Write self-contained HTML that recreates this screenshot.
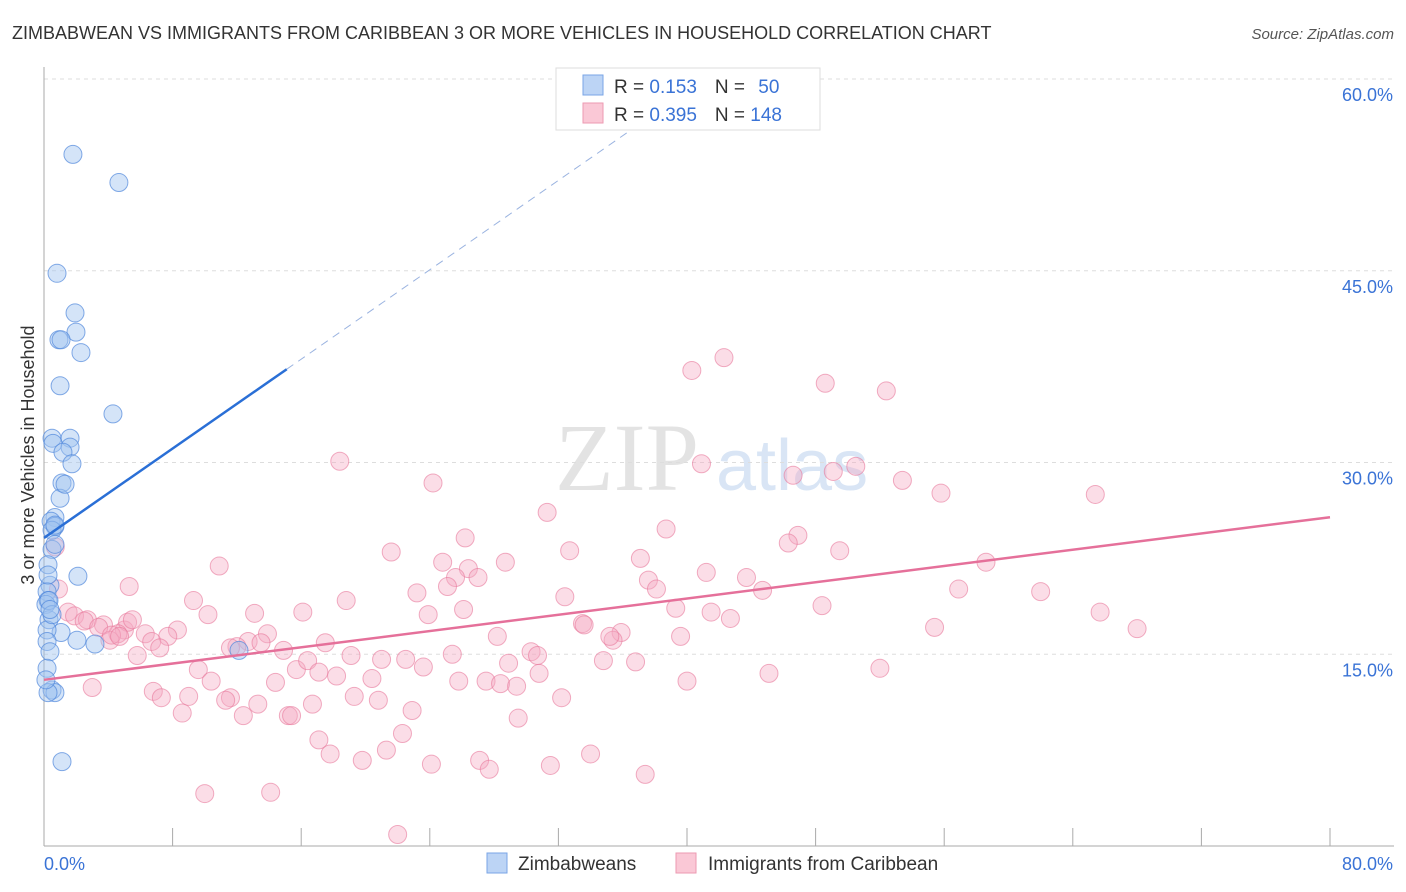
<!DOCTYPE html>
<html><head><meta charset="utf-8"><style>
body{margin:0;background:#fff;font-family:"Liberation Sans",sans-serif;}
svg{display:block}
</style></head><body>
<svg id="chart" width="1406" height="892" xmlns="http://www.w3.org/2000/svg">
<text x="12" y="39" font-size="18" fill="#333">ZIMBABWEAN VS IMMIGRANTS FROM CARIBBEAN 3 OR MORE VEHICLES IN HOUSEHOLD CORRELATION CHART</text>
<text x="1394" y="39" font-size="15" fill="#555" font-style="italic" text-anchor="end">Source: ZipAtlas.com</text>
<g><text x="555" y="490" font-size="96" font-family="Liberation Serif" fill="#ddd" opacity="0.8">ZIP</text><text x="716" y="490" font-size="72" fill="#c9dbf2" opacity="0.7">atlas</text></g>
<g id="grid"></g>
<g id="axes"></g>
<g id="marks"></g>
<g id="lines"></g>
<text transform="translate(34,455) rotate(-90)" font-size="18" fill="#333" text-anchor="middle">3 or more Vehicles in Household</text>
<g>
<rect x="556" y="68" width="264" height="62" fill="#fff" stroke="#ddd"/>
<rect x="583" y="75" width="20" height="20" fill="#bcd4f5" stroke="#7aa5e6"/>
<rect x="583" y="103" width="20" height="20" fill="#fac8d6" stroke="#ec9ab2"/>
<text x="614" y="93" font-size="19" fill="#333">R = <tspan fill="#3a73d6">0.153</tspan><tspan dx="18">N = </tspan><tspan fill="#3a73d6" dx="8">50</tspan></text>
<text x="614" y="121" font-size="19" fill="#333">R = <tspan fill="#3a73d6">0.395</tspan><tspan dx="18">N = </tspan><tspan fill="#3a73d6">148</tspan></text>
</g>
<g>
<rect x="487" y="853" width="20" height="20" fill="#bcd4f5" stroke="#7aa5e6"/>
<text x="518" y="870" font-size="19" fill="#333">Zimbabweans</text>
<rect x="676" y="853" width="20" height="20" fill="#fac8d6" stroke="#ec9ab2"/>
<text x="708" y="870" font-size="19" fill="#333">Immigrants from Caribbean</text>
</g>
</svg>
<script>
const yTicks=[15,30,45,60];
const yTickLabels=["15.0%","30.0%","45.0%","60.0%"];
const xTickLabels=["0.0%","80.0%"];
const blueX=[1.8,4.66,0.81,1.93,1.99,0.93,1.06,2.3,4.29,1.0,0.5,1.62,0.56,1.62,1.18,1.74,1.12,1.0,1.31,0.68,0.44,0.68,0.5,0.5,0.25,2.11,0.37,0.19,0.25,0.12,1.06,0.31,0.19,2.05,3.17,0.19,0.37,0.19,0.5,0.68,0.25,1.12,12.13,0.68,0.31,0.5,0.12,0.68,0.25,0.37];
const blueY=[54.1,51.9,44.8,41.7,40.2,39.6,39.6,38.6,33.8,36.0,31.9,31.9,31.5,31.2,30.8,29.9,28.4,27.2,28.3,25.7,25.4,25.0,24.7,23.2,22.0,21.1,20.4,19.9,19.2,18.9,16.7,17.7,16.9,16.1,15.8,16.0,15.2,13.9,12.2,12.0,12.0,6.6,15.3,23.6,19.2,18.1,13.0,25.1,21.2,18.5];
const pinkX=[42.3,40.3,48.6,52.4,18.4,40.9,49.1,50.5,46.6,24.2,53.4,55.8,65.4,31.3,38.7,26.2,46.9,46.3,21.6,32.7,49.5,37.1,24.8,28.7,26.4,10.9,41.2,25.6,27.0,43.7,37.6,58.6,23.2,25.1,32.4,38.1,44.7,56.9,62.0,9.3,5.3,0.9,0.7,26.1,39.3,16.1,13.1,18.8,10.2,23.9,41.5,42.7,48.4,65.7,33.5,33.6,35.9,35.4,35.2,39.6,55.4,68.0,1.5,1.9,2.7,2.5,3.7,3.4,5.0,5.2,4.6,5.5,4.1,6.3,8.3,7.7,6.7,7.2,13.9,12.7,13.5,12.0,17.5,4.2,4.7,11.6,14.9,5.8,19.1,28.2,30.3,30.7,36.8,34.8,25.4,21.0,22.5,23.6,15.7,16.4,17.1,18.2,9.6,10.4,20.4,25.8,28.9,30.8,27.5,28.4,29.4,40.0,45.1,52.0,3.0,6.8,7.3,9.0,11.6,11.3,14.4,19.3,20.8,8.6,16.7,12.4,13.3,15.2,15.4,22.9,29.5,32.2,17.1,22.3,17.8,19.8,21.3,27.1,24.1,27.7,31.5,34.0,37.4,10.0,14.1,22.0];
const pinkY=[38.2,37.2,36.2,35.6,30.1,29.9,29.3,29.7,29.0,28.4,28.6,27.6,27.5,26.1,24.8,24.1,24.3,23.7,23.0,23.1,23.1,22.5,22.2,22.2,21.7,21.9,21.4,21.0,21.0,21.0,20.8,22.2,19.8,20.3,19.5,20.1,20.0,20.1,19.9,19.2,20.3,20.1,23.4,18.5,18.6,18.3,18.2,19.2,18.1,18.1,18.3,17.8,18.8,18.3,17.4,17.3,16.7,16.1,16.4,16.4,17.1,17.0,18.3,18.0,17.7,17.6,17.3,17.1,16.9,17.5,16.6,17.7,16.1,16.6,16.9,16.4,16.0,15.5,16.6,16.0,15.9,15.6,15.9,16.5,16.4,15.5,15.3,14.9,14.9,16.4,15.2,14.9,14.4,14.5,15.0,14.6,14.6,14.0,13.8,14.5,13.6,13.3,13.8,12.9,13.1,12.9,14.3,13.5,12.9,12.7,12.5,12.9,13.5,13.9,12.4,12.1,11.6,11.7,11.6,11.4,12.8,11.7,11.4,10.4,11.1,10.2,11.1,10.2,10.2,10.6,10.0,11.6,8.3,8.8,7.2,6.7,7.5,6.7,6.4,6.0,6.3,7.2,5.6,4.1,4.2,0.9];
const blueTrend=[24.1,0.874];
const pinkTrend=[13.0,0.159];
const NS="http://www.w3.org/2000/svg";
const X0=44,X1=1330,Y0=846,Ymax=79;
const sx=v=>X0+v*(X1-X0)/80;
const sy=v=>Y0-v*(Y0-Ymax)/60;
function mk(tag,attrs,parent){const e=document.createElementNS(NS,tag);for(const k in attrs)e.setAttribute(k,attrs[k]);parent.appendChild(e);return e;}
const grid=document.getElementById('grid'),axes=document.getElementById('axes'),marks=document.getElementById('marks'),lines=document.getElementById('lines');
yTicks.forEach((t,i)=>{
 const l=mk('line',{x1:X0,x2:1394,y1:sy(t),y2:sy(t),stroke:'#ddd','stroke-dasharray':'4,4'},grid);
 
 
 const tx=mk('text',{x:1393,y:sy(t)+22,'font-size':18,fill:'#3a73d6','text-anchor':'end'},axes);
 tx.textContent=yTickLabels[i];
 
 
});
const la=mk('line',{x1:X0,x2:X0,y1:67,y2:Y0,stroke:'#aaa'},axes);


const ba=mk('line',{x1:X0,x2:1394,y1:Y0,y2:Y0,stroke:'#aaa'},axes);


for(let i=0;i<=10;i++){
 const tk=mk('line',{x1:sx(i*8),x2:sx(i*8),y1:828,y2:Y0,stroke:'#aaa'},axes);
 
 
}
const xl0=mk('text',{x:44,y:870,'font-size':18,fill:'#3a73d6'},axes);xl0.textContent=xTickLabels[0];


const xl1=mk('text',{x:1393,y:870,'font-size':18,fill:'#3a73d6','text-anchor':'end'},axes);xl1.textContent=xTickLabels[1];


pinkX.forEach((v,i)=>{
 const c=mk('circle',{cx:sx(v),cy:sy(pinkY[i]),r:9,fill:'rgba(246,170,195,0.4)',stroke:'rgba(232,120,155,0.6)','stroke-width':1},marks);
 
 
});
blueX.forEach((v,i)=>{
 const c=mk('circle',{cx:sx(v),cy:sy(blueY[i]),r:9,fill:'rgba(160,195,240,0.45)',stroke:'rgba(80,135,220,0.7)','stroke-width':1},marks);
 
 
});
const b1=mk('line',{x1:sx(0),y1:sy(blueTrend[0]),x2:sx(15.1),y2:sy(blueTrend[0]+blueTrend[1]*15.1),stroke:'#2a6fd6','stroke-width':2.5},lines);


const b2=mk('line',{x1:sx(15.1),y1:sy(blueTrend[0]+blueTrend[1]*15.1),x2:sx(37),y2:sy(blueTrend[0]+blueTrend[1]*37),stroke:'#9ab3e0','stroke-width':1,'stroke-dasharray':'8,6'},lines);


const p1=mk('line',{x1:sx(0),y1:sy(pinkTrend[0]),x2:sx(80),y2:sy(pinkTrend[0]+pinkTrend[1]*80),stroke:'#e5709a','stroke-width':2.5},lines);


</script>
</body></html>
